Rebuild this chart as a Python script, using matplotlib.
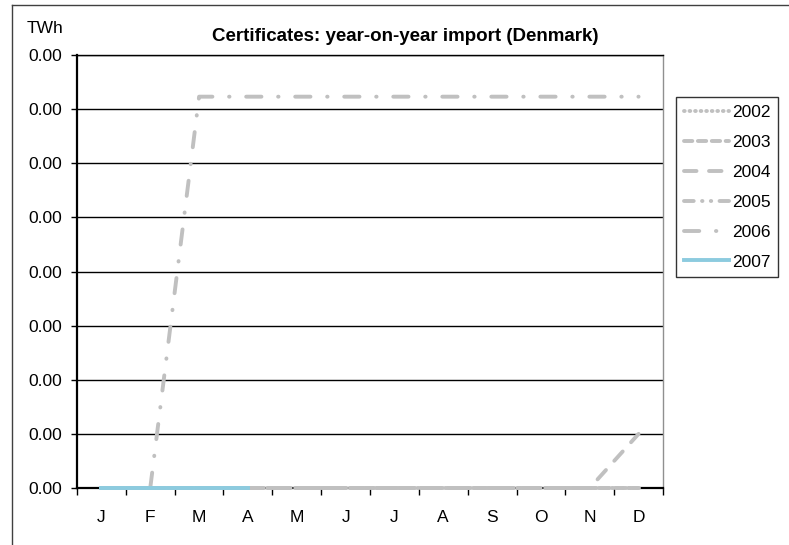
import matplotlib
matplotlib.use("Agg")
import matplotlib.pyplot as plt
from matplotlib.lines import Line2D
from matplotlib.ticker import FormatStrFormatter

plt.rcParams['font.family'] = ['Liberation Sans', 'DejaVu Sans']
plt.rcParams['lines.scale_dashes'] = False

# data (TWh) - values are tiny, every tick shows as 0.00
months = ['J', 'F', 'M', 'A', 'M', 'J', 'J', 'A', 'S', 'O', 'N', 'D']
y2002 = [0, 0, 0, 0, 0, 0, 0, 0, 0, 0, 0, 0]
y2003 = [0, 0, 0, 0, 0, 0, 0, 0, 0, 0, 0, 0]
y2004 = [0, 0, 0, 0, 0, 0, 0, 0, 0, 0, 0, 0.0001]
y2005 = [0, 0, 0, 0, 0, 0, 0, 0, 0, 0, 0, 0]
y2006 = [0, 0, 0.000723, 0.000723, 0.000723, 0.000723, 0.000723,
         0.000723, 0.000723, 0.000723, 0.000723, 0.000723]
y2007 = [0, 0, 0, 0]

gray = '#C0C0C0'
blue = '#8CCBDF'
fs = 12.5

fig = plt.figure(figsize=(7.89, 5.45), dpi=100)
ax = fig.add_axes([77 / 789, 1 - 488 / 545, (663 - 77) / 789, (488 - 55) / 545])

x = list(range(12))
lw = 2.8
kw = dict(lw=lw, dash_capstyle='round', zorder=3, clip_on=False)
ax.plot(x, y2002, color=gray, ls=(0, (0.5, 3.5)), label='2002', **kw)
ax.plot(x, y2003, color=gray, ls=(0, (6, 4)), label='2003', **kw)
ax.plot(x, y2004, color=gray, ls=(0, (9, 9)), label='2004', **kw)
ax.plot(x, y2005, color=gray, ls=(0, (7, 6, 0.3, 6, 0.3, 6)), label='2005', **kw)
ax.plot(x, y2006, color=gray, ls=(0, (11, 12, 0.3, 12)), label='2006', **kw)
ax.plot(x[:len(y2007)], y2007, color=blue, label='2007', **kw)

ax.set_xlim(-0.5, 11.5)
ax.set_ylim(0, 0.0008)
ax.set_yticks([i * 0.0001 for i in range(9)])
ax.yaxis.set_major_formatter(FormatStrFormatter('%.2f'))
ax.grid(axis='y', color='black', lw=1.0)
ax.set_axisbelow(True)

# month ticks between categories, labels centred
ax.set_xticks([i - 0.5 for i in range(13)])
ax.set_xticklabels([])
ax.set_xticks(x, minor=True)
ax.set_xticklabels(months, minor=True)
ax.tick_params(axis='x', which='major', direction='out', length=5, width=1, color='black')
ax.tick_params(axis='x', which='minor', length=0, pad=16, labelsize=fs)
ax.tick_params(axis='y', direction='out', length=4, width=1, pad=7, labelsize=fs)

for s in ['left', 'bottom']:
    ax.spines[s].set_color('black')
    ax.spines[s].set_linewidth(1.6)
ax.spines['top'].set_color('black')
ax.spines['top'].set_linewidth(1.0)
ax.spines['right'].set_color('#909090')
ax.spines['right'].set_linewidth(1.0)

fig.text(405 / 789, 1 - 41 / 545, 'Certificates: year-on-year import (Denmark)',
         fontsize=13.5, fontweight='bold', ha='center', va='baseline')
fig.text(27 / 789, 1 - 33 / 545, 'TWh', fontsize=fs, va='baseline', ha='left')

leg = fig.legend(loc='upper left', bbox_to_anchor=(676 / 789, 1 - 97 / 545),
                 fontsize=fs, frameon=True, fancybox=False, edgecolor='black',
                 handlelength=2.6, handletextpad=0.17, labelspacing=0.85,
                 borderpad=0.45, borderaxespad=0)
leg.get_frame().set_linewidth(1.0)

# outer chart frame (cropped at right and bottom)
fig.add_artist(Line2D([12 / 789, 1], [1 - 5 / 545, 1 - 5 / 545], color='#404040', lw=1.0))
fig.add_artist(Line2D([12 / 789, 12 / 789], [0, 1 - 5 / 545], color='#404040', lw=1.0))

fig.savefig('out.png', dpi=100)
